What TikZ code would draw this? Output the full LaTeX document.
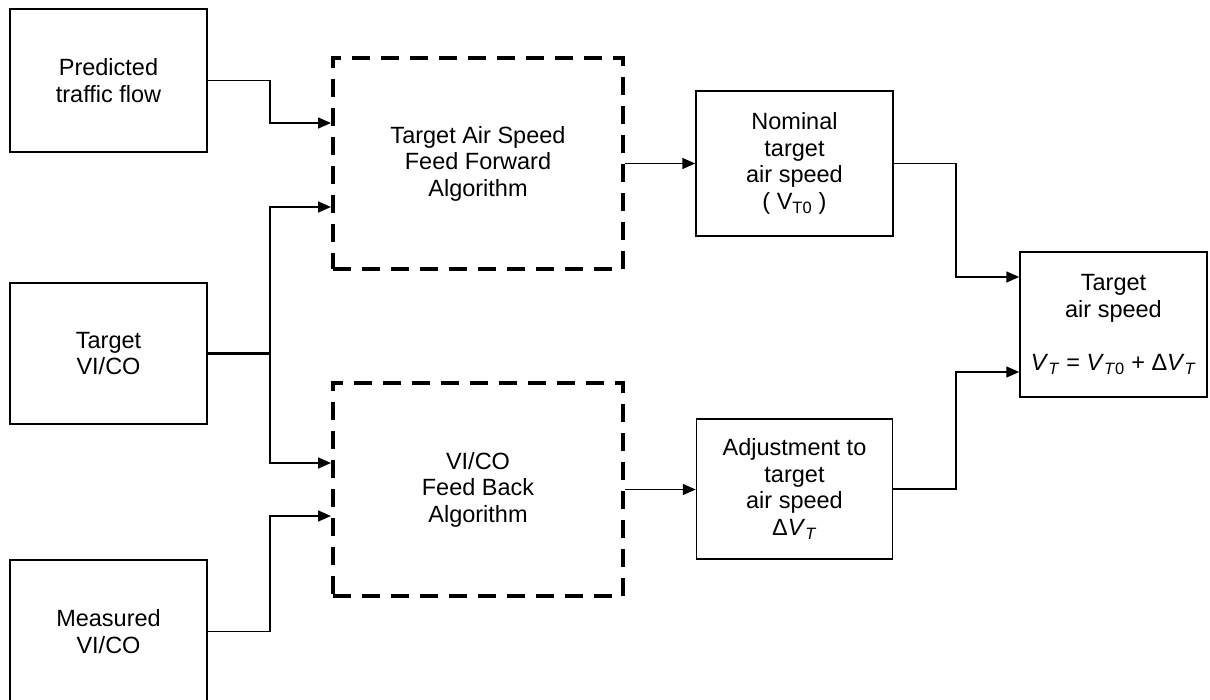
\documentclass[tikz,border=0pt]{standalone}
\usepackage{fontspec}
\setmainfont{Liberation Sans}
\usetikzlibrary{arrows.meta}
\newcommand{\itV}{\textit{V}}
\begin{document}
\begin{tikzpicture}[x=1pt,y=-1pt,
  txt/.style={font=\fontsize{23.5}{26.5}\selectfont, align=center, inner sep=0pt},
  box/.style={txt, draw, line width=1.5pt, rectangle},
  algbox/.style={txt, draw, line width=4pt, dash pattern=on 18pt off 11pt, rectangle},
  conn/.style={line width=1.5pt},
  arr/.style={conn, -{Triangle[length=13pt,width=11pt]}}
]
\clip (0,0) rectangle (1210,700);
\fill[white] (0,0) rectangle (1210,700);

\node[box, minimum width=197pt, minimum height=143pt] (pred) at (108.5,80.5) {Predicted\\traffic flow};
\node[box, minimum width=197pt, minimum height=141pt] (tvico) at (108.5,353.5) {Target\\VI/CO};
\node[box, minimum width=197pt, minimum height=143pt] (meas) at (108.5,631.5) {Measured\\VI/CO};

\node[algbox, minimum width=290pt, minimum height=211pt] (ff) at (478,163.5) {Target Air Speed\\Feed Forward\\Algorithm};
\node[algbox, minimum width=290pt, minimum height=213pt] (fb) at (478,489.5) {VI/CO\\Feed Back\\Algorithm};

\node[box, minimum width=197pt, minimum height=145pt] (nom) at (794.5,163.5) {Nominal\\target\\air speed\\( V\textsubscript{T0} )};
\node[box, minimum width=196pt, minimum height=140pt] (adj) at (794.5,489) {Adjustment to\\target\\air speed\\Δ\itV\textsubscript{\textit{T}}};
\node[box, minimum width=187pt, minimum height=145pt] (tas) at (1113.5,324.5) {Target\\air speed\\[26.5pt]\itV\textsubscript{\textit{T}} = \itV\textsubscript{\textit{T}0} + Δ\itV\textsubscript{\textit{T}}};

\coordinate (bus) at (270,0);
\coordinate (bus2) at (956,0);
\coordinate (ffin1) at ([yshift=40.5pt]ff.west);
\coordinate (ffin2) at ([yshift=-43.5pt]ff.west);
\coordinate (fbin1) at ([yshift=26.5pt]fb.west);
\coordinate (fbin2) at ([yshift=-26.5pt]fb.west);
\coordinate (tin1) at ([yshift=47.5pt]tas.west);
\coordinate (tin2) at ([yshift=-47.5pt]tas.west);

\draw[arr] (pred.east) -| (bus |- ffin1) -- (ffin1);
\draw[conn, line width=2.4pt] (tvico.east) -- (bus |- tvico.east);
\draw[arr] (bus |- tvico.east) |- (ffin2);
\draw[arr] (bus |- tvico.east) |- (fbin1);
\draw[arr] (meas.east) -| (bus |- fbin2) -- (fbin2);

\draw[arr] (ff.east) -- (nom.west);
\draw[arr] (fb.east) -- (fb.east -| adj.west);

\draw[arr] (nom.east) -| (bus2 |- tin1) -- (tin1);
\draw[arr] (adj.east) -| (bus2 |- tin2) -- (tin2);
\end{tikzpicture}
\end{document}
